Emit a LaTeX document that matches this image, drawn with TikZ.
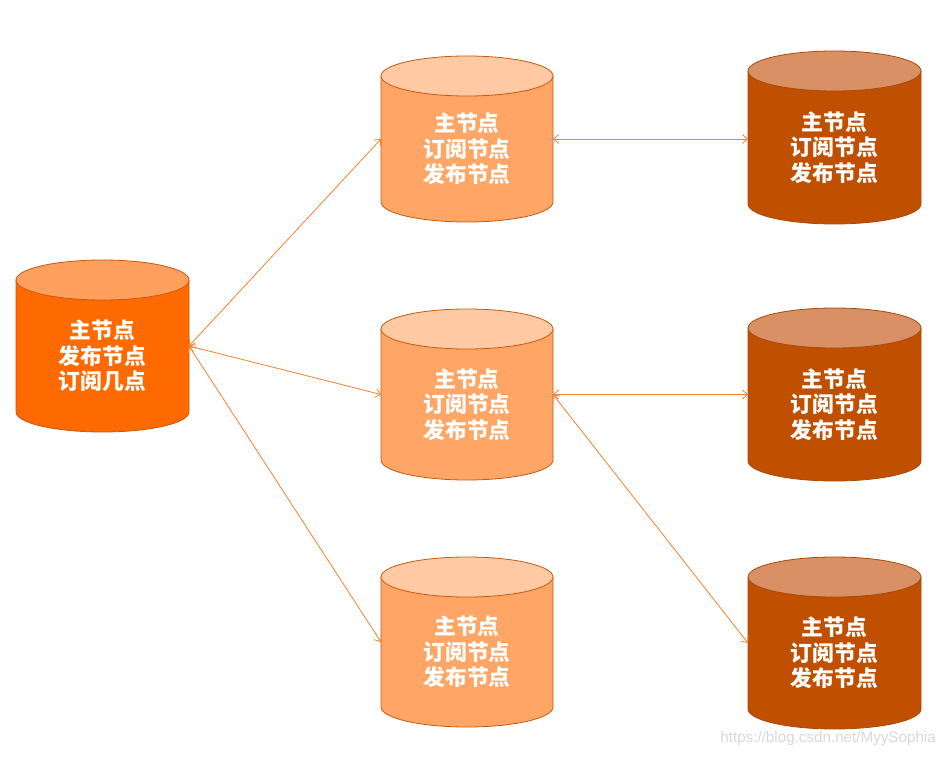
\documentclass[tikz,border=0pt]{standalone}
\usepackage{fontspec}
\newfontfamily\cjk{Noto Sans CJK SC}
\newfontfamily\wmfont{Liberation Sans}
\usetikzlibrary{arrows.meta}
\definecolor{edgecol}{HTML}{C55A11}
\definecolor{redge}{HTML}{A84A0A}
\definecolor{lbody}{HTML}{FF6A00}
\definecolor{ltop}{HTML}{FF9F5E}
\definecolor{mbody}{HTML}{FFA666}
\definecolor{mtop}{HTML}{FFC9A3}
\definecolor{rbody}{HTML}{C05000}
\definecolor{rtop}{HTML}{D89064}
\definecolor{arrcol}{HTML}{F58232}
\definecolor{wmcol}{HTML}{D9D9D9}
\tikzset{
  box/.style={rectangle,inner sep=0pt,outer sep=0pt,draw=none},
  lbl/.style={text=white,font=\cjk\bfseries\fontsize{21.8}{25.5}\selectfont,align=center,inner sep=0pt},
  link/.style={draw=arrcol,line width=0.8pt,{Straight Barb[length=5pt,width=9pt]}-{Straight Barb[length=5pt,width=9pt]}},
}
\newcommand\dbcyl[9]{%
  \pgfmathsetmacro\rx{(#3-#2)/2}%
  \pgfmathsetmacro\cx{(#3+#2)/2}%
  \pgfmathsetmacro\cy{(#4+#5)/2}%
  \filldraw[fill=#6,draw=#8,line width=0.8pt] (#2,#4) -- (#2,#5) arc[start angle=180,end angle=0,x radius=\rx,y radius=20] -- (#3,#4) -- cycle;
  \filldraw[fill=#7,draw=#8,line width=0.8pt] (\cx,#4) ellipse[x radius=\rx,y radius=20];
  \node[box,minimum width={(#3-#2)*1pt},minimum height={(#5-#4)*1pt}] (#1) at (\cx,\cy) {};
  \node[lbl] (#1-t) at (\cx,\cy+10) {#9};
}
\begin{document}
\begin{tikzpicture}[x=1pt,y=-1pt]
\useasboundingbox[fill=white] (0,0) rectangle (948,757);
\dbcyl{L}{16}{189}{280}{412}{lbody}{ltop}{edgecol}{主节点\\发布节点\\订阅几点}
\dbcyl{M1}{381}{553}{76}{202}{mbody}{mtop}{edgecol}{主节点\\订阅节点\\发布节点}
\dbcyl{M2}{381}{553}{329}{460}{mbody}{mtop}{edgecol}{主节点\\订阅节点\\发布节点}
\dbcyl{M3}{381}{553}{577}{707}{mbody}{mtop}{edgecol}{主节点\\订阅节点\\发布节点}
\dbcyl{R1}{748}{921}{71}{204}{rbody}{rtop}{redge}{主节点\\订阅节点\\发布节点}
\dbcyl{R2}{748}{921}{328}{461}{rbody}{rtop}{redge}{主节点\\订阅节点\\发布节点}
\dbcyl{R3}{748}{921}{577}{709}{rbody}{rtop}{redge}{主节点\\订阅节点\\发布节点}
\draw[link] (L.east) -- (M1.west);
\draw[link] (L.east) -- (M2.west);
\draw[link] (L.east) -- (M3.west);
\draw[link] (M1.east) -- (R1.west |- M1.east);
\draw[link] (M2.east) -- (R2.west |- M2.east);
\draw[link] (M2.east) -- (R3.west);
\node[text=wmcol,font=\wmfont\fontsize{15.2}{17}\selectfont,inner sep=0pt,anchor=east] (wm) at (936,739) {https://blog.csdn.net/MyySophia};
\end{tikzpicture}
\end{document}
